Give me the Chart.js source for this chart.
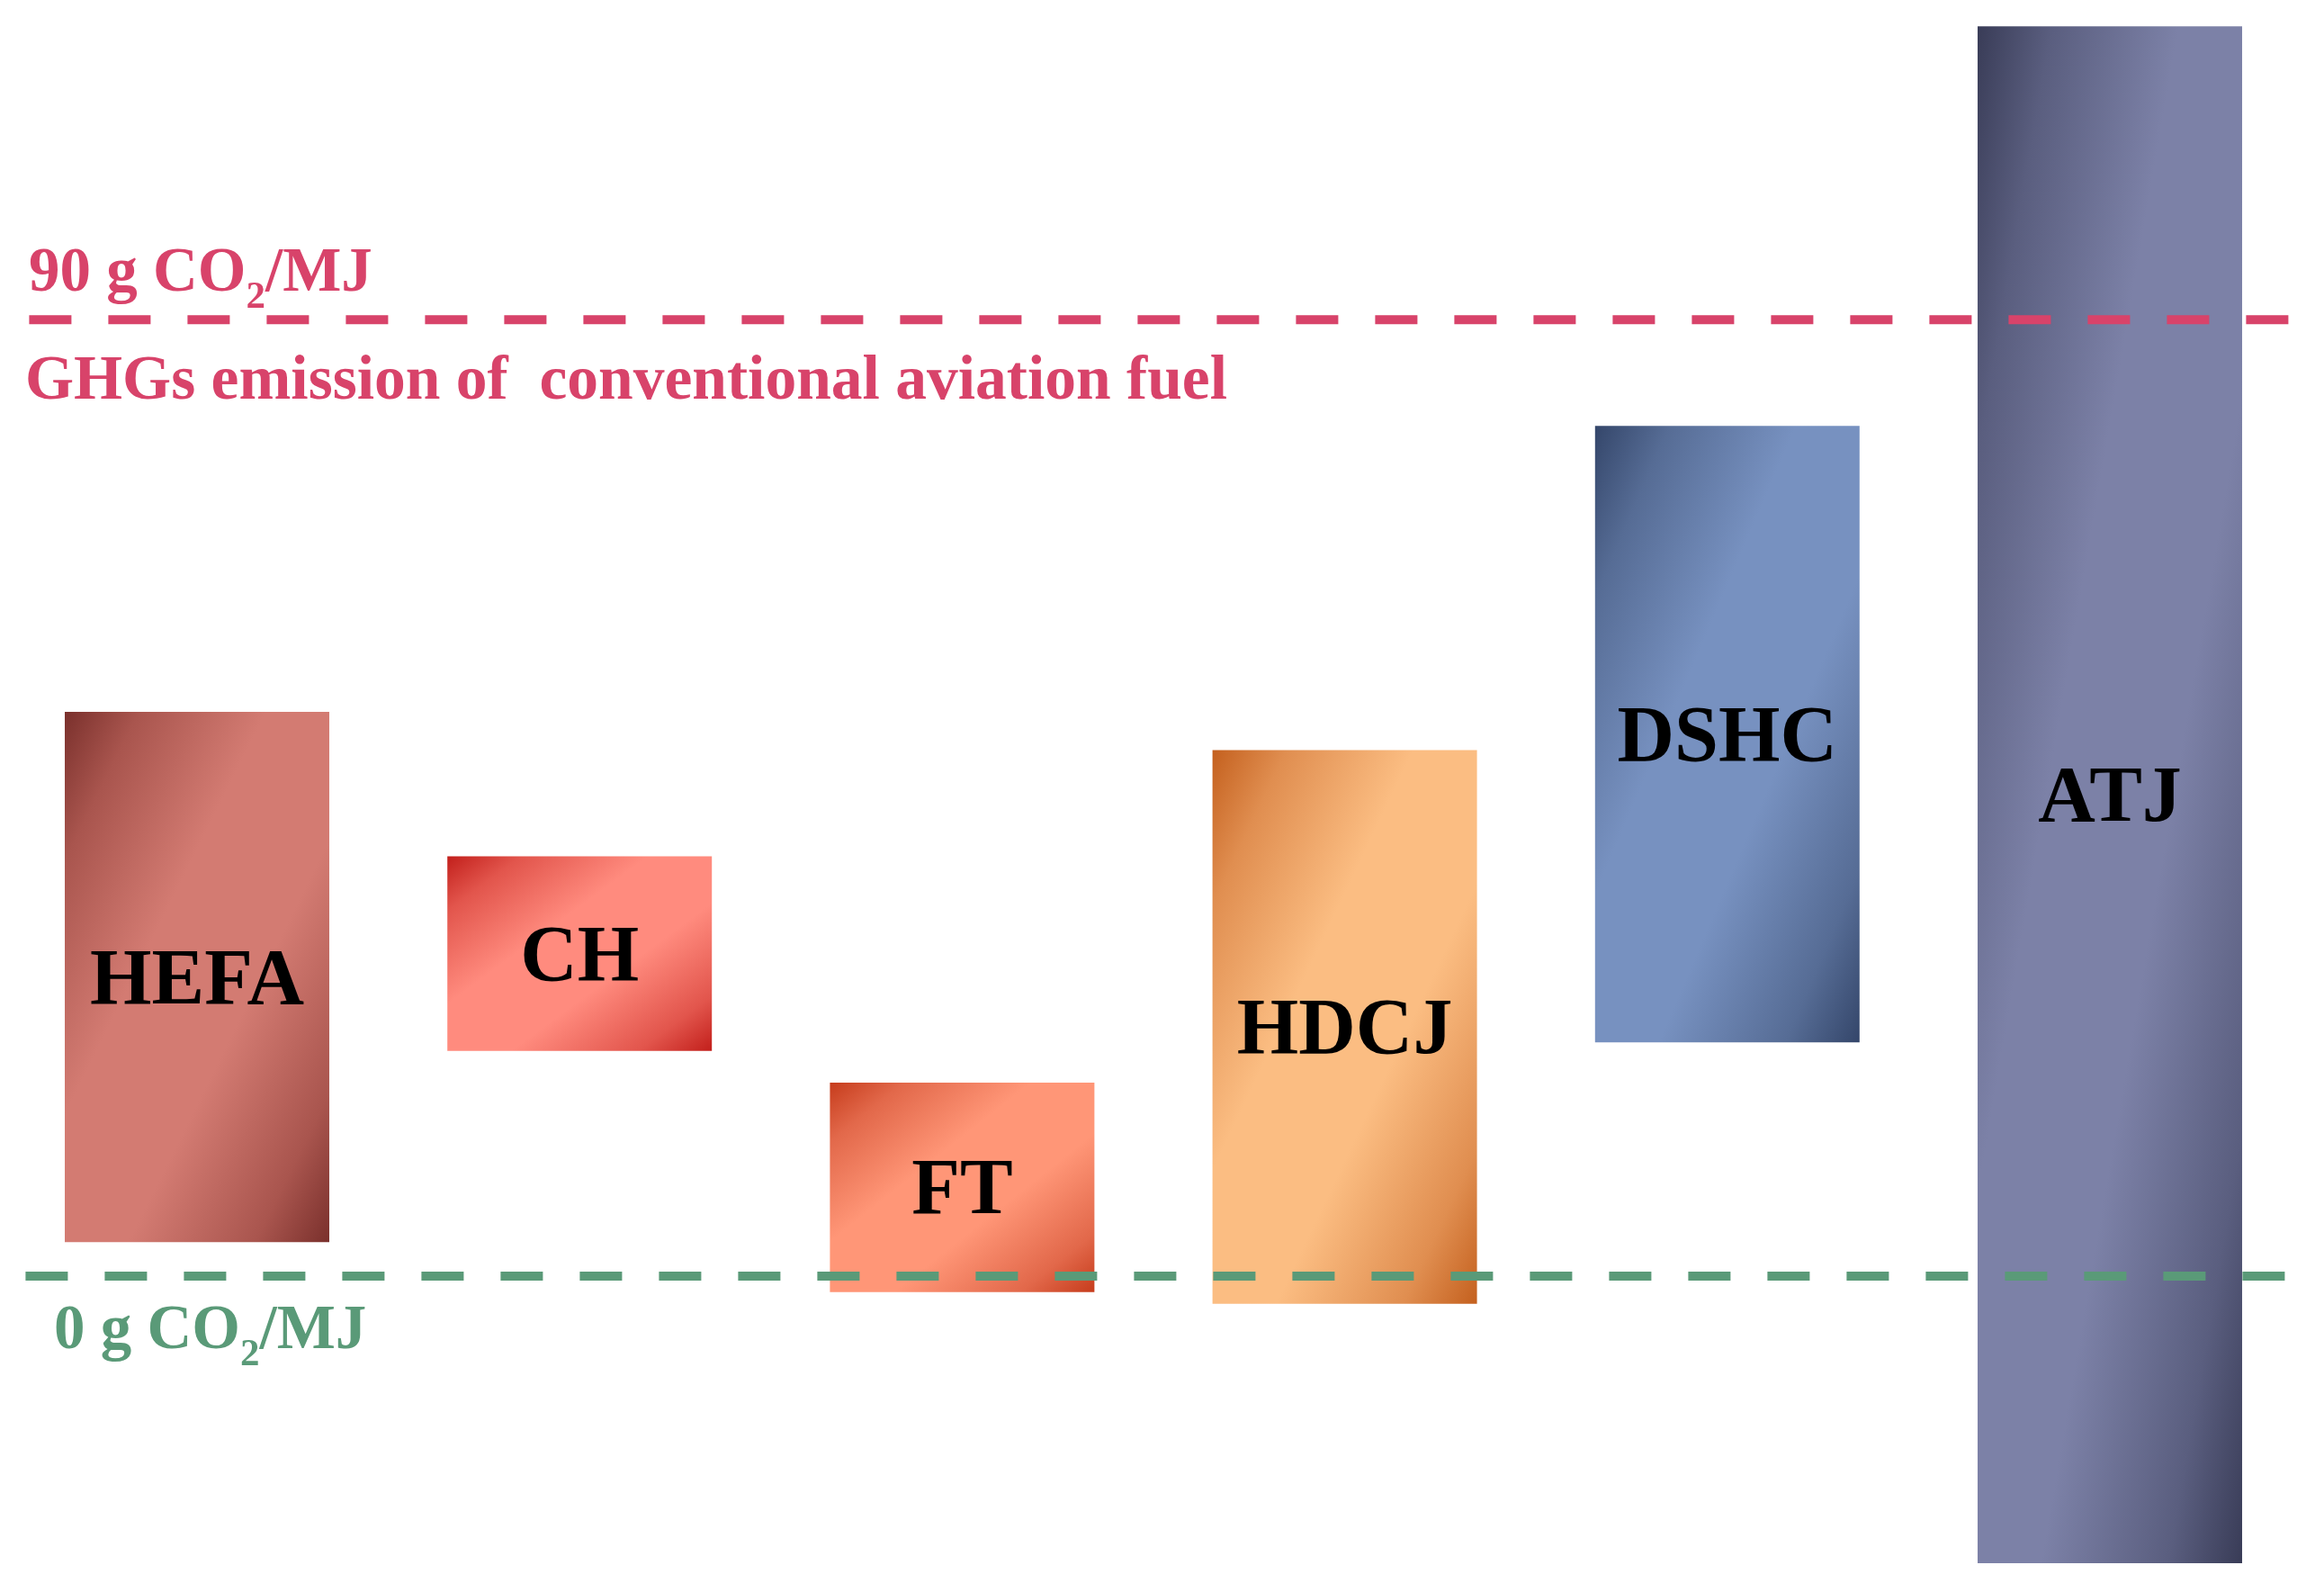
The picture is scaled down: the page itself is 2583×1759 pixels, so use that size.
<!DOCTYPE html>
<html>
<head>
<meta charset="utf-8">
<script src="https://cdn.jsdelivr.net/npm/chart.js@4"></script>
<style>
  html, body { margin: 0; padding: 0; background: #fff; }
  canvas { display: block; }
</style>
</head>
<body>
<canvas id="myChart" width="2583" height="1759"></canvas>
<script>
// pathways and their GHG emission ranges (g CO2/MJ)
const categories = ["HEFA", "CH", "FT", "HDCJ", "DSHC", "ATJ"];
const lowValues = [3.2, 21.2, -1.5, -2.6, 22.0, -27.0];
const highValues = [53.1, 39.5, 18.2, 49.5, 80.0, 117.6];

const darkColors = ["#7a302c", "#c21f1b", "#c63c1c", "#c4601e", "#34466a", "#393c57"];
const midColors = ["#a9554e", "#e2554c", "#e2684a", "#e08e50", "#566c95", "#5a5e7f"];
const lightColors = ["#d37b72", "#ff8b7e", "#ff9677", "#fbbd82", "#7791c0", "#7c81a7"];

// reference lines
const refValues = [90, 0];
const refColors = ["#d8436a", "#5a9a78"];

const yMin = -28.87;
const yMax = 120.07;
const barPct = 0.6914;

function barGradient(c) {
  const i = c.dataIndex;
  const chart = c.chart;
  if (c.type !== "data" || !chart.chartArea) return lightColors[i] || "#999";
  const xs = chart.scales.x;
  const ys = chart.scales.y;
  const w = xs.width / categories.length * barPct;
  const left = xs.getPixelForValue(i) - w / 2;
  const top = ys.getPixelForValue(highValues[i]);
  const h = ys.getPixelForValue(lowValues[i]) - top;
  // gradient isolines run along the anti-diagonal of the box
  const k = 2 * w * h / (w * w + h * h);
  const g = chart.ctx.createLinearGradient(left, top, left + h * k, top + w * k);
  g.addColorStop(0, darkColors[i]);
  g.addColorStop(0.14, midColors[i]);
  g.addColorStop(0.38, lightColors[i]);
  g.addColorStop(0.62, lightColors[i]);
  g.addColorStop(0.86, midColors[i]);
  g.addColorStop(1, darkColors[i]);
  return g;
}

function drawCO2(ctx, text, x, base, size) {
  ctx.font = "bold " + size + "px 'Liberation Serif'";
  ctx.fillText(text + "CO", x, base);
  x += ctx.measureText(text + "CO").width;
  ctx.font = "bold " + Math.round(size * 0.62) + "px 'Liberation Serif'";
  ctx.fillText("2", x, base + size * 0.28);
  x += ctx.measureText("2").width;
  ctx.font = "bold " + size + "px 'Liberation Serif'";
  ctx.fillText("/MJ", x, base);
}

const overlay = {
  id: "overlay",
  afterDatasetsDraw(chart) {
    const ctx = chart.ctx;
    const area = chart.chartArea;
    const y = chart.scales.y;
    const meta = chart.getDatasetMeta(0);
    ctx.save();

    // bar labels
    ctx.fillStyle = "#000";
    ctx.textAlign = "center";
    ctx.textBaseline = "alphabetic";
    ctx.font = "bold 88px 'Liberation Serif'";
    meta.data.forEach((bar, i) => {
      ctx.fillText(categories[i], bar.x, (bar.y + bar.base) / 2 + 29);
    });

    // dashed reference lines
    ctx.lineWidth = 10;
    ctx.setLineDash([47, 41]);
    refValues.forEach((v, i) => {
      const py = y.getPixelForValue(v);
      ctx.strokeStyle = refColors[i];
      ctx.beginPath();
      ctx.moveTo(area.left + (i === 0 ? 26 : 22), py);
      ctx.lineTo(area.right, py);
      ctx.stroke();
    });
    ctx.setLineDash([]);

    // reference texts
    ctx.textAlign = "left";
    const y90 = y.getPixelForValue(refValues[0]);
    const y0 = y.getPixelForValue(refValues[1]);
    ctx.fillStyle = refColors[0];
    drawCO2(ctx, "90 g ", 32, y90 - 32, 69);
    ctx.font = "bold 69.5px 'Liberation Serif'";
    ctx.fillText("GHGs emission of  conventional aviation fuel", 28, y90 + 88);
    ctx.fillStyle = refColors[1];
    drawCO2(ctx, "0 g ", 60, y0 + 80, 69);

    ctx.restore();
  }
};

const ctx = document.getElementById("myChart");
new Chart(ctx, {
  type: "bar",
  data: {
    labels: categories,
    datasets: [
      {
        data: categories.map((_, i) => [lowValues[i], highValues[i]]),
        backgroundColor: barGradient,
        borderWidth: 0,
        categoryPercentage: 1,
        barPercentage: barPct,
      },
    ],
  },
  options: {
    responsive: false,
    animation: false,
    layout: {
      padding: { left: 6.4, right: 25.4, top: 0, bottom: 0 },
    },
    plugins: {
      legend: { display: false },
      tooltip: { enabled: false },
    },
    scales: {
      x: { display: false },
      y: { display: false, min: yMin, max: yMax },
    },
  },
  plugins: [overlay],
});
</script>
</body>
</html>
